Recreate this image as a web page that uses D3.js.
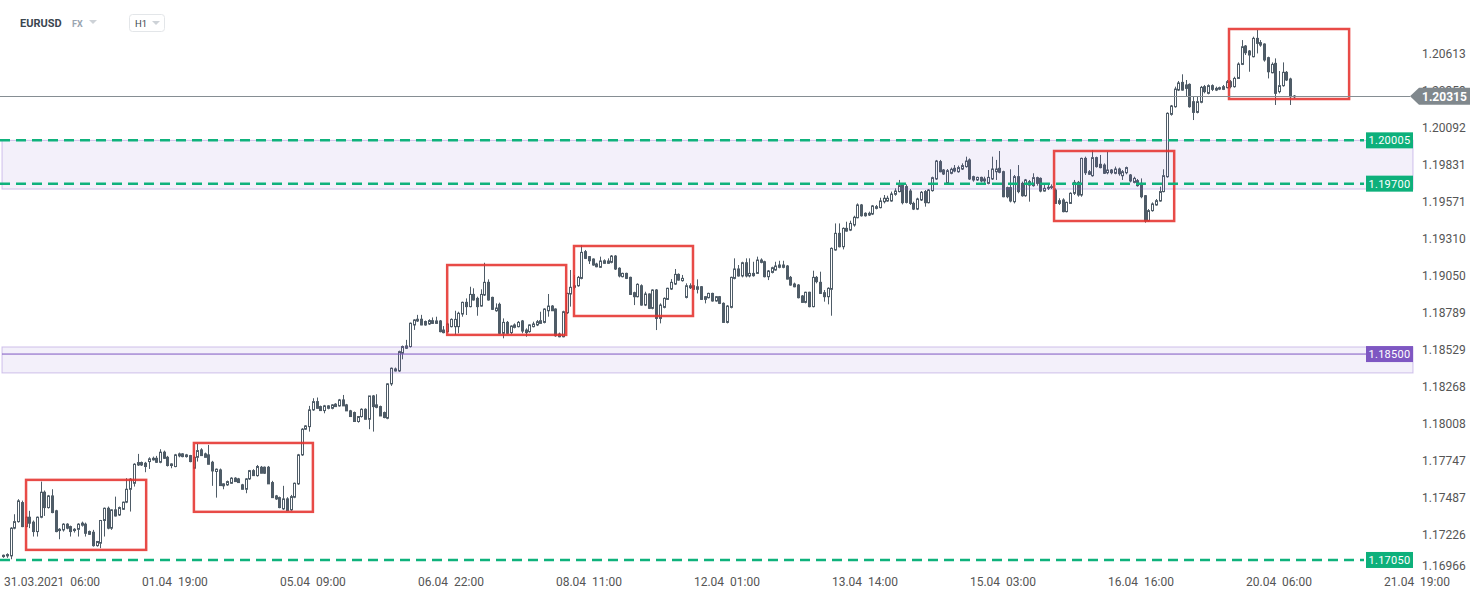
<!DOCTYPE html>
<html>
<head>
<meta charset="utf-8">
<script src="https://cdn.jsdelivr.net/npm/d3@7"></script>
<style>
  body { margin: 0; background: #fff; }
  svg { display: block; font-family: Roboto, "Noto Sans", Arial, sans-serif; }
</style>
</head>
<body>
<svg id="chart" width="1482" height="598"></svg>
<script>
// EURUSD H1 candles (one value per hour)
const opens = [
  1.17074,1.17079,1.17079,1.17274,1.17320,1.17454,1.17285,1.17351,1.17316,1.17250,
  1.17351,1.17527,1.17419,1.17501,1.17396,1.17257,1.17262,1.17302,1.17285,1.17257,
  1.17266,1.17295,1.17302,1.17250,1.17245,1.17151,1.17168,1.17328,1.17414,1.17274,
  1.17403,1.17367,1.17407,1.17457,1.17548,1.17590,1.17719,1.17736,1.17731,1.17743,
  1.17766,1.17766,1.17738,1.17809,1.17773,1.17715,1.17708,1.17783,1.17797,1.17778,
  1.17785,1.17696,1.17773,1.17825,1.17797,1.17790,1.17738,1.17673,1.17684,1.17572,
  1.17579,1.17590,1.17626,1.17621,1.17579,1.17548,1.17621,1.17679,1.17644,1.17703,
  1.17703,1.17703,1.17595,1.17501,1.17489,1.17410,1.17480,1.17403,1.17492,1.17586,
  1.17790,1.17971,1.17989,1.18107,1.18165,1.18130,1.18102,1.18118,1.18118,1.18147,
  1.18135,1.18177,1.18142,1.18100,1.18088,1.18025,1.18060,1.18111,1.18041,1.18205,
  1.18142,1.18130,1.18088,1.18048,1.18290,1.18395,1.18381,1.18506,1.18557,1.18553,
  1.18705,1.18733,1.18745,1.18729,1.18712,1.18735,1.18716,1.18733,1.18669,1.18658,
  1.18693,1.18693,1.18693,1.18782,1.18864,1.18834,1.18920,1.18892,1.18838,1.18916,
  1.19005,1.18899,1.18805,1.18850,1.18646,1.18723,1.18651,1.18688,1.18693,1.18733,
  1.18669,1.18658,1.18693,1.18705,1.18716,1.18723,1.18805,1.18838,1.18817,1.18641,
  1.18622,1.18791,1.18923,1.18970,1.18981,1.19033,1.19221,1.19186,1.19169,1.19134,
  1.19111,1.19139,1.19139,1.19146,1.19190,1.19104,1.19045,1.19068,1.19040,1.18932,
  1.18904,1.18981,1.18845,1.18923,1.18822,1.18951,1.18751,1.18829,1.18885,1.18958,
  1.18993,1.19061,1.19017,1.18899,1.18967,1.18981,1.18956,1.18974,1.18885,1.18897,
  1.18927,1.18874,1.18904,1.18857,1.18723,1.18829,1.19033,1.19099,1.19050,1.19143,
  1.19050,1.19068,1.19068,1.19162,1.19150,1.19045,1.19075,1.19092,1.19111,1.19127,
  1.19120,1.19040,1.18993,1.18986,1.18909,1.18864,1.18935,1.18834,1.19040,1.19005,
  1.18932,1.18904,1.18956,1.19233,1.19350,1.19256,1.19385,1.19373,1.19409,1.19460,
  1.19550,1.19491,1.19479,1.19486,1.19526,1.19531,1.19573,1.19578,1.19578,1.19625,
  1.19644,1.19690,1.19679,1.19648,1.19561,1.19521,1.19585,1.19644,1.19566,1.19651,
  1.19733,1.19855,1.19796,1.19702,1.19773,1.19808,1.19784,1.19803,1.19820,1.19867,
  1.19749,1.19726,1.19744,1.19719,1.19702,1.19733,1.19784,1.19808,1.19784,1.19672,
  1.19672,1.19573,1.19749,1.19702,1.19615,1.19714,1.19686,1.19742,1.19737,1.19648,
  1.19667,1.19674,1.19655,1.19561,1.19585,1.19503,1.19561,1.19632,1.19709,1.19620,
  1.19878,1.19766,1.19756,1.19883,1.19836,1.19831,1.19777,1.19796,1.19773,1.19803,
  1.19756,1.19777,1.19761,1.19709,1.19721,1.19702,1.19615,1.19437,1.19510,1.19550,
  1.19578,1.19644,1.19749,1.20188,1.20242,1.20359,1.20413,1.20395,1.20399,1.20277,
  1.20202,1.20273,1.20383,1.20336,1.20390,1.20359,1.20366,1.20364,1.20376,1.20418,
  1.20383,1.20441,1.20540,1.20669,1.20634,1.20594,1.20723,1.20693,1.20683,1.20587,
  1.20481,1.20547,1.20348,1.20390,1.20484,1.20437,1.20317
];
const highs = [
  1.17088,1.17097,1.17281,1.17372,1.17478,1.17468,1.17360,1.17396,1.17328,1.17356,
  1.17602,1.17539,1.17508,1.17548,1.17403,1.17274,1.17309,1.17309,1.17292,1.17274,
  1.17309,1.17320,1.17313,1.17257,1.17262,1.17184,1.17332,1.17419,1.17426,1.17407,
  1.17496,1.17426,1.17461,1.17626,1.17626,1.17731,1.17797,1.17743,1.17741,1.17773,
  1.17778,1.17783,1.17830,1.17820,1.17783,1.17731,1.17797,1.17806,1.17802,1.17797,
  1.17790,1.17783,1.17867,1.17837,1.17806,1.17860,1.17748,1.17694,1.17694,1.17590,
  1.17609,1.17633,1.17633,1.17628,1.17586,1.17626,1.17684,1.17689,1.17719,1.17712,
  1.17708,1.17712,1.17607,1.17508,1.17496,1.17572,1.17492,1.17508,1.17595,1.17797,
  1.17978,1.17999,1.18135,1.18189,1.18194,1.18137,1.18142,1.18140,1.18147,1.18154,
  1.18184,1.18212,1.18149,1.18107,1.18095,1.18064,1.18118,1.18118,1.18205,1.18212,
  1.18217,1.18137,1.18095,1.18294,1.18405,1.18405,1.18524,1.18560,1.18600,1.18722,
  1.18745,1.18776,1.18776,1.18736,1.18745,1.18758,1.18763,1.18740,1.18697,1.18721,
  1.18751,1.18805,1.18798,1.18869,1.18892,1.18974,1.18963,1.18904,1.18956,1.19143,
  1.19026,1.18904,1.18857,1.18862,1.18751,1.18733,1.18702,1.18716,1.18733,1.18740,
  1.18681,1.18709,1.18728,1.18740,1.18798,1.18822,1.18923,1.18845,1.18822,1.18651,
  1.18805,1.18932,1.19092,1.19057,1.19050,1.19268,1.19233,1.19190,1.19174,1.19143,
  1.19186,1.19167,1.19174,1.19197,1.19197,1.19111,1.19073,1.19073,1.19045,1.18939,
  1.18998,1.18991,1.18939,1.18927,1.18956,1.18958,1.18857,1.18899,1.18967,1.19028,
  1.19099,1.19068,1.19057,1.18998,1.18998,1.18986,1.19026,1.18979,1.18909,1.18932,
  1.18932,1.18909,1.18909,1.18864,1.18845,1.19045,1.19174,1.19127,1.19150,1.19174,
  1.19174,1.19150,1.19186,1.19174,1.19157,1.19092,1.19115,1.19150,1.19157,1.19157,
  1.19127,1.19050,1.19003,1.18993,1.18916,1.18939,1.18939,1.19087,1.19050,1.19080,
  1.18951,1.18970,1.19251,1.19420,1.19420,1.19392,1.19432,1.19439,1.19474,1.19561,
  1.19557,1.19498,1.19503,1.19550,1.19550,1.19601,1.19620,1.19615,1.19644,1.19667,
  1.19726,1.19702,1.19695,1.19662,1.19573,1.19601,1.19648,1.19655,1.19662,1.19749,
  1.19867,1.19867,1.19803,1.19803,1.19813,1.19831,1.19827,1.19843,1.19890,1.19878,
  1.19756,1.19749,1.19749,1.19749,1.19796,1.19890,1.19867,1.19930,1.19791,1.19679,
  1.19801,1.19761,1.19831,1.19714,1.19733,1.19726,1.19773,1.19749,1.19744,1.19690,
  1.19690,1.19695,1.19667,1.19597,1.19597,1.19573,1.19639,1.19726,1.19719,1.19883,
  1.19890,1.19796,1.19937,1.19890,1.19902,1.19843,1.19925,1.19803,1.19820,1.19813,
  1.19796,1.19820,1.19768,1.19749,1.19733,1.19737,1.19620,1.19521,1.19568,1.19592,
  1.19679,1.19801,1.20202,1.20254,1.20383,1.20423,1.20470,1.20430,1.20406,1.20312,
  1.20312,1.20388,1.20395,1.20399,1.20399,1.20383,1.20383,1.20395,1.20430,1.20430,
  1.20453,1.20554,1.20711,1.20676,1.20641,1.20735,1.20782,1.20711,1.20688,1.20594,
  1.20554,1.20582,1.20493,1.20554,1.20493,1.20446,1.20324
];
const lows = [
  1.17065,1.17065,1.17055,1.17266,1.17313,1.17281,1.17281,1.17274,1.17215,1.17215,
  1.17344,1.17360,1.17412,1.17379,1.17245,1.17196,1.17250,1.17266,1.17215,1.17243,
  1.17215,1.17285,1.17215,1.17227,1.17144,1.17144,1.17133,1.17215,1.17266,1.17262,
  1.17356,1.17360,1.17403,1.17450,1.17391,1.17567,1.17712,1.17712,1.17668,1.17691,
  1.17750,1.17733,1.17731,1.17762,1.17708,1.17696,1.17703,1.17773,1.17773,1.17771,
  1.17738,1.17691,1.17743,1.17785,1.17773,1.17724,1.17572,1.17489,1.17574,1.17548,
  1.17572,1.17586,1.17602,1.17595,1.17548,1.17520,1.17614,1.17644,1.17637,1.17661,
  1.17656,1.17586,1.17489,1.17473,1.17414,1.17403,1.17398,1.17396,1.17485,1.17579,
  1.17783,1.17966,1.17954,1.18100,1.18118,1.18102,1.18083,1.18111,1.18111,1.18130,
  1.18130,1.18135,1.18100,1.18060,1.18025,1.18017,1.18053,1.18041,1.17971,1.17954,
  1.18118,1.18064,1.18048,1.18041,1.18276,1.18377,1.18374,1.18463,1.18536,1.18546,
  1.18670,1.18726,1.18703,1.18700,1.18705,1.18712,1.18712,1.18653,1.18646,1.18651,
  1.18688,1.18634,1.18646,1.18763,1.18775,1.18829,1.18876,1.18770,1.18834,1.18909,
  1.18876,1.18810,1.18798,1.18641,1.18611,1.18641,1.18641,1.18681,1.18688,1.18646,
  1.18622,1.18651,1.18688,1.18697,1.18712,1.18716,1.18763,1.18805,1.18622,1.18618,
  1.18618,1.18782,1.18834,1.18956,1.18974,1.19026,1.19169,1.19134,1.19122,1.19111,
  1.19106,1.19134,1.19134,1.19139,1.19092,1.19040,1.19040,1.19028,1.18916,1.18845,
  1.18899,1.18841,1.18838,1.18817,1.18815,1.18669,1.18716,1.18822,1.18881,1.18951,
  1.18986,1.19017,1.19010,1.18892,1.18958,1.18951,1.18927,1.18881,1.18857,1.18892,
  1.18869,1.18869,1.18852,1.18721,1.18716,1.18822,1.19026,1.19045,1.19040,1.19040,
  1.19040,1.19045,1.19064,1.19139,1.19040,1.19021,1.19068,1.19087,1.19104,1.19104,
  1.19026,1.18981,1.18970,1.18892,1.18862,1.18857,1.18829,1.18829,1.18998,1.18923,
  1.18869,1.18850,1.18770,1.19228,1.19251,1.19237,1.19362,1.19366,1.19397,1.19456,
  1.19468,1.19468,1.19472,1.19479,1.19519,1.19526,1.19561,1.19573,1.19573,1.19615,
  1.19639,1.19554,1.19561,1.19550,1.19514,1.19514,1.19578,1.19538,1.19561,1.19644,
  1.19726,1.19780,1.19761,1.19695,1.19766,1.19780,1.19777,1.19796,1.19813,1.19726,
  1.19714,1.19719,1.19709,1.19702,1.19695,1.19726,1.19726,1.19773,1.19604,1.19597,
  1.19568,1.19561,1.19632,1.19608,1.19608,1.19573,1.19679,1.19686,1.19639,1.19644,
  1.19655,1.19662,1.19557,1.19550,1.19498,1.19498,1.19557,1.19620,1.19608,1.19608,
  1.19761,1.19761,1.19749,1.19813,1.19808,1.19768,1.19766,1.19766,1.19766,1.19756,
  1.19726,1.19766,1.19709,1.19702,1.19679,1.19597,1.19425,1.19432,1.19503,1.19545,
  1.19573,1.19639,1.19742,1.20179,1.20235,1.20352,1.20355,1.20312,1.20235,1.20148,
  1.20195,1.20266,1.20336,1.20329,1.20352,1.20352,1.20359,1.20359,1.20371,1.20371,
  1.20376,1.20437,1.20535,1.20606,1.20488,1.20589,1.20617,1.20664,1.20559,1.20441,
  1.20477,1.20254,1.20336,1.20383,1.20423,1.20254,1.20301
];
const closes = [
  1.17083,1.17088,1.17274,1.17320,1.17466,1.17285,1.17351,1.17309,1.17250,1.17351,
  1.17527,1.17419,1.17501,1.17384,1.17250,1.17266,1.17302,1.17274,1.17250,1.17266,
  1.17302,1.17309,1.17238,1.17231,1.17151,1.17180,1.17328,1.17414,1.17274,1.17403,
  1.17360,1.17419,1.17457,1.17548,1.17619,1.17724,1.17736,1.17719,1.17708,1.17762,
  1.17755,1.17738,1.17809,1.17766,1.17715,1.17726,1.17790,1.17797,1.17778,1.17790,
  1.17743,1.17773,1.17820,1.17785,1.17773,1.17724,1.17677,1.17689,1.17574,1.17586,
  1.17602,1.17626,1.17602,1.17595,1.17548,1.17621,1.17679,1.17644,1.17708,1.17661,
  1.17661,1.17586,1.17489,1.17480,1.17419,1.17480,1.17398,1.17496,1.17590,1.17790,
  1.17971,1.17994,1.18107,1.18165,1.18118,1.18102,1.18135,1.18135,1.18142,1.18130,
  1.18177,1.18135,1.18100,1.18060,1.18025,1.18060,1.18111,1.18041,1.18205,1.18130,
  1.18125,1.18064,1.18053,1.18290,1.18400,1.18381,1.18517,1.18553,1.18541,1.18717,
  1.18740,1.18745,1.18705,1.18705,1.18736,1.18716,1.18733,1.18658,1.18651,1.18712,
  1.18744,1.18744,1.18787,1.18864,1.18834,1.18920,1.18881,1.18834,1.18920,1.19005,
  1.18881,1.18815,1.18824,1.18646,1.18723,1.18646,1.18697,1.18705,1.18723,1.18662,
  1.18651,1.18705,1.18712,1.18728,1.18735,1.18817,1.18838,1.18805,1.18629,1.18622,
  1.18798,1.18927,1.18970,1.18981,1.19040,1.19216,1.19174,1.19157,1.19127,1.19115,
  1.19155,1.19157,1.19155,1.19190,1.19099,1.19050,1.19068,1.19033,1.18920,1.18904,
  1.18991,1.18845,1.18923,1.18822,1.18951,1.18751,1.18845,1.18892,1.18963,1.19005,
  1.19061,1.19021,1.19033,1.18981,1.18981,1.18956,1.18974,1.18885,1.18904,1.18927,
  1.18874,1.18904,1.18857,1.18723,1.18838,1.19040,1.19099,1.19050,1.19143,1.19050,
  1.19068,1.19052,1.19162,1.19146,1.19045,1.19085,1.19108,1.19120,1.19127,1.19111,
  1.19028,1.18986,1.18974,1.18897,1.18864,1.18935,1.18834,1.19040,1.19010,1.18927,
  1.18904,1.18963,1.19244,1.19350,1.19256,1.19385,1.19366,1.19420,1.19463,1.19550,
  1.19474,1.19474,1.19491,1.19543,1.19538,1.19578,1.19597,1.19597,1.19627,1.19648,
  1.19686,1.19566,1.19568,1.19561,1.19521,1.19592,1.19639,1.19566,1.19655,1.19742,
  1.19859,1.19784,1.19768,1.19791,1.19801,1.19789,1.19813,1.19827,1.19859,1.19733,
  1.19726,1.19744,1.19719,1.19733,1.19744,1.19803,1.19803,1.19780,1.19608,1.19608,
  1.19578,1.19749,1.19644,1.19615,1.19726,1.19690,1.19742,1.19702,1.19648,1.19667,
  1.19674,1.19679,1.19561,1.19580,1.19503,1.19568,1.19632,1.19709,1.19620,1.19878,
  1.19777,1.19784,1.19883,1.19820,1.19813,1.19773,1.19796,1.19777,1.19803,1.19770,
  1.19784,1.19813,1.19719,1.19737,1.19686,1.19608,1.19437,1.19510,1.19557,1.19580,
  1.19644,1.19756,1.20195,1.20247,1.20366,1.20409,1.20359,1.20371,1.20242,1.20202,
  1.20277,1.20378,1.20348,1.20390,1.20364,1.20371,1.20376,1.20383,1.20418,1.20383,
  1.20441,1.20542,1.20664,1.20622,1.20606,1.20723,1.20688,1.20676,1.20571,1.20488,
  1.20540,1.20336,1.20390,1.20484,1.20430,1.20312,1.20315
];

// price axis ticks
const yTicks = [1.20613, 1.20353, 1.20092, 1.19831, 1.19571, 1.19310, 1.19050, 1.18789,
                1.18529, 1.18268, 1.18008, 1.17747, 1.17487, 1.17226, 1.16966];

// time axis labels and the candle (hour) they belong to
const xLabels = ["31.03.2021  06:00", "01.04  19:00", "05.04  09:00", "06.04  22:00", "08.04  11:00",
                 "12.04  01:00", "13.04  14:00", "15.04  03:00", "16.04  16:00", "20.04  06:00", "21.04  19:00"];
const xLabelIdx = [9, 46, 83, 120, 157, 194, 231, 268, 305, 342, 379];

// drawn levels
const greenLevels = [1.20005, 1.19700, 1.17050];
const purpleLevel = 1.18500;
const lastPrice = 1.20315;
const bandTop = [1.20005, 1.18550];
const bandBottom = [1.19662, 1.18367];

// red consolidation boxes (candle index from/to, price top/bottom)
const boxFrom = [6.1, 51.1, 119.0, 153.0, 281.7, 328.6];
const boxTo = [38.3, 83.0, 150.9, 184.9, 313.9, 360.8];
const boxTop = [1.17614, 1.17874, 1.19127, 1.19261, 1.19930, 1.20789];
const boxBottom = [1.17121, 1.17389, 1.18635, 1.18768, 1.19437, 1.20296];

const svg = d3.select("#chart");
const plotRight = 1413;   // right edge of the drawing area
const lineEnd = 1366;     // where the level labels start

const xScale = d3.scaleLinear().domain([0, 379]).range([3.3, 1417]);
const yScale = d3.scaleLinear()
                 .domain([yTicks[yTicks.length - 1], yTicks[0]])
                 .range([571.9, 54]);

const candleColor = "#4f5c67";
const candles = opens.map((o, i) => ({ i: i, o: o, h: highs[i], l: lows[i], c: closes[i] }));

// candles: wick first, body on top
const cg = svg.append("g").selectAll("g").data(candles).join("g");
cg.append("line")
  .attr("x1", d => Math.round(xScale(d.i)) + 0.5)
  .attr("x2", d => Math.round(xScale(d.i)) + 0.5)
  .attr("y1", d => yScale(d.h))
  .attr("y2", d => yScale(d.l))
  .attr("stroke", candleColor)
  .attr("stroke-width", 1);
cg.append("rect")
  .attr("x", d => Math.round(xScale(d.i)) - 0.5)
  .attr("y", d => yScale(Math.max(d.o, d.c)))
  .attr("width", 2)
  .attr("height", d => Math.max(0.8, Math.abs(yScale(d.o) - yScale(d.c))))
  .attr("fill", d => d.c >= d.o ? "#ffffff" : candleColor)
  .attr("stroke", candleColor)
  .attr("stroke-width", 1);

// shaded zones
bandTop.forEach((t, k) => {
  svg.append("rect")
     .attr("x", 2)
     .attr("y", yScale(t))
     .attr("width", plotRight - 2)
     .attr("height", yScale(bandBottom[k]) - yScale(t))
     .attr("fill", "rgba(125, 90, 200, 0.09)")
     .attr("stroke", "rgba(125, 90, 200, 0.35)")
     .attr("stroke-width", 1);
});

// red boxes
boxFrom.forEach((b, k) => {
  svg.append("rect")
     .attr("x", xScale(b))
     .attr("y", yScale(boxTop[k]))
     .attr("width", xScale(boxTo[k]) - xScale(b))
     .attr("height", yScale(boxBottom[k]) - yScale(boxTop[k]))
     .attr("fill", "none")
     .attr("stroke", "rgba(229, 50, 45, 0.88)")
     .attr("stroke-width", 2.5);
});

// last price line
svg.append("line")
   .attr("x1", 0).attr("x2", 1410)
   .attr("y1", Math.round(yScale(lastPrice)) + 0.5)
   .attr("y2", Math.round(yScale(lastPrice)) + 0.5)
   .attr("stroke", "#868e93")
   .attr("stroke-width", 1);

// purple level
svg.append("line")
   .attr("x1", 2).attr("x2", lineEnd)
   .attr("y1", yScale(purpleLevel)).attr("y2", yScale(purpleLevel))
   .attr("stroke", "#7e57c2")
   .attr("stroke-width", 1);

// green dashed levels
svg.selectAll(".green-level").data(greenLevels).join("line")
   .attr("class", "green-level")
   .attr("x1", 0).attr("x2", lineEnd - 2)
   .attr("y1", d => yScale(d)).attr("y2", d => yScale(d))
   .attr("stroke", "#0fb27c")
   .attr("stroke-width", 2.5)
   .attr("stroke-dasharray", "10,6");

// price axis labels (lowest is pushed up to stay above the time axis)
svg.selectAll(".ytick").data(yTicks).join("text")
   .attr("class", "ytick")
   .attr("x", 1422)
   .attr("y", d => Math.min(yScale(d), 566))
   .attr("dy", "0.36em")
   .attr("font-size", 12)
   .attr("fill", "#555")
   .text(d => d.toFixed(5));

// level labels
function levelTag(value, color) {
  const y = yScale(value);
  svg.append("rect")
     .attr("x", lineEnd).attr("y", y - 8)
     .attr("width", plotRight - lineEnd).attr("height", 16)
     .attr("fill", color);
  svg.append("text")
     .attr("x", (lineEnd + plotRight) / 2).attr("y", y)
     .attr("dy", "0.36em")
     .attr("text-anchor", "middle")
     .attr("font-size", 11)
     .attr("fill", "#fff")
     .attr("letter-spacing", 0.3)
     .text(value.toFixed(5));
}
greenLevels.forEach(v => levelTag(v, "#0db07b"));
levelTag(purpleLevel, "#7e57c2");

// last price tag with arrow
const ly = yScale(lastPrice);
svg.append("path")
   .attr("d", `M1410,${ly} L1419,${ly - 8.5} L1470,${ly - 8.5} L1470,${ly + 8.5} L1419,${ly + 8.5} Z`)
   .attr("fill", "#80888d");
svg.append("text")
   .attr("x", 1422).attr("y", ly)
   .attr("dy", "0.36em")
   .attr("font-size", 12)
   .attr("font-weight", "bold")
   .attr("fill", "#fff")
   .text(lastPrice.toFixed(5));

// time axis labels
svg.selectAll(".xtick").data(xLabels).join("text")
   .attr("class", "xtick")
   .attr("xml:space", "preserve")
   .style("white-space", "pre")
   .attr("x", (d, k) => k === 0 ? 4 : xScale(xLabelIdx[k]))
   .attr("y", 582)
   .attr("dy", "0.36em")
   .attr("text-anchor", (d, k) => k === 0 ? "start" : "middle")
   .attr("font-size", 12)
   .attr("fill", "#555")
   .text(d => d);

// header: symbol and interval selector
svg.append("text").attr("x", 20).attr("y", 27)
   .attr("font-size", 11).attr("font-weight", "bold").attr("fill", "#3b4650")
   .text("EURUSD");
svg.append("text").attr("x", 72).attr("y", 27)
   .attr("font-size", 9).attr("font-weight", "bold").attr("fill", "#9aa5b1")
   .text("FX");
svg.append("path").attr("d", "M89,20 L97,20 L93,24 Z").attr("fill", "#cdd2d7");
svg.append("rect").attr("x", 129.5).attr("y", 14.5).attr("width", 35).attr("height", 17).attr("rx", 3)
   .attr("fill", "#fff").attr("stroke", "#e3e6e9");
svg.append("text").attr("x", 135).attr("y", 27)
   .attr("font-size", 9.5).attr("fill", "#3b4650")
   .text("H1");
svg.append("path").attr("d", "M152,21 L160,21 L156,25 Z").attr("fill", "#cdd2d7");
</script>
</body>
</html>
